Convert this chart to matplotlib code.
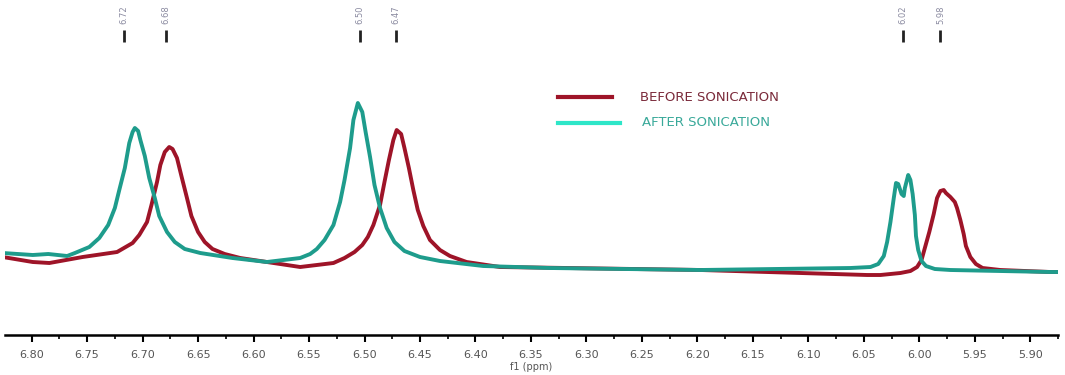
import numpy as np
import matplotlib.pyplot as plt
from matplotlib.ticker import MultipleLocator

# spectra (ppm, relative intensity)
after_ppm = [6.826, 6.799, 6.785, 6.768, 6.761, 6.748, 6.739, 6.731, 6.725, 6.721,
             6.716, 6.712, 6.709, 6.707, 6.704, 6.702, 6.698, 6.694, 6.689, 6.685,
             6.678, 6.671, 6.662, 6.648, 6.619, 6.588, 6.558, 6.549, 6.543, 6.536,
             6.528, 6.522, 6.518, 6.513, 6.510, 6.506, 6.502, 6.499, 6.495, 6.491,
             6.486, 6.480, 6.473, 6.464, 6.450, 6.432, 6.393, 6.333, 6.197, 6.062,
             6.044, 6.037, 6.032, 6.029, 6.026, 6.023, 6.021, 6.019, 6.016, 6.014,
             6.013, 6.010, 6.008, 6.006, 6.004, 6.003, 6.001, 5.998, 5.994, 5.986,
             5.972, 5.882, 5.871]
after_int = [27, 25, 26, 24, 27, 33, 42, 55, 72, 90,
             112, 137, 148, 152, 149, 140, 124, 102, 82, 64,
             48, 38, 31, 27, 22, 18, 22, 26, 31, 40,
             55, 78, 100, 132, 160, 177, 168, 148, 123, 95,
             72, 52, 38, 29, 23, 19, 14, 12, 10, 12,
             13, 16, 24, 38, 58, 82, 97, 96, 86, 84,
             92, 105, 100, 86, 65, 44, 30, 19, 14, 11,
             10, 8, 8]

before_ppm = [6.826, 6.799, 6.784, 6.754, 6.723, 6.709, 6.703, 6.696, 6.692, 6.687,
              6.684, 6.680, 6.676, 6.673, 6.669, 6.665, 6.660, 6.656, 6.650, 6.644,
              6.637, 6.626, 6.612, 6.588, 6.558, 6.528, 6.518, 6.509, 6.502, 6.497,
              6.492, 6.486, 6.482, 6.478, 6.474, 6.471, 6.467, 6.464, 6.460, 6.456,
              6.452, 6.447, 6.441, 6.432, 6.423, 6.408, 6.378, 6.197, 6.047, 6.035,
              6.017, 6.008, 6.002, 5.998, 5.995, 5.991, 5.987, 5.984, 5.981, 5.978,
              5.976, 5.972, 5.968, 5.966, 5.963, 5.960, 5.958, 5.954, 5.949, 5.943,
              5.927, 5.882, 5.871]
before_int = [23, 18, 17, 23, 28, 37, 45, 58, 75, 98,
              115, 128, 133, 131, 122, 104, 82, 64, 48, 38,
              31, 26, 22, 18, 13, 17, 22, 28, 35, 43,
              55, 75, 98, 120, 140, 150, 146, 132, 112, 90,
              70, 54, 40, 30, 24, 18, 13, 10, 5, 5,
              7, 9, 13, 20, 32, 48, 66, 82, 89, 90,
              87, 83, 78, 72, 60, 46, 34, 23, 16, 12,
              10, 8, 8]

peak_pos = [6.717, 6.679, 6.504, 6.472, 6.015, 5.981]
peak_labels = ['6.72', '6.68', '6.50', '6.47', '6.02', '5.98']

red = '#9e1428'
teal = '#1e9c8c'

fig = plt.figure(figsize=(10.65, 3.75), dpi=100)
ax = fig.add_axes([5 / 1065, 40 / 375, 1053 / 1065, 335 / 375])

ax.plot(before_ppm, before_int, color=red, lw=2.8, solid_joinstyle='round')
ax.plot(after_ppm, after_int, color=teal, lw=2.8, solid_joinstyle='round')

# peak picking marks on top
ax.vlines(peak_pos, 238, 250, colors='#222222', lw=2)
for p, lab in zip(peak_pos, peak_labels):
    ax.text(p, 256, lab, rotation=90, ha='center', va='bottom',
            fontsize=6, color='#8a8aa0')

# legend drawn by hand
ax.plot([0.525, 0.576], [0.710, 0.710], transform=ax.transAxes, color=red, lw=3)
ax.plot([0.525, 0.584], [0.633, 0.633], transform=ax.transAxes, color='#2ee6c8', lw=3)
ax.text(0.603, 0.710, 'BEFORE SONICATION', transform=ax.transAxes, va='center',
        fontsize=9.5, color='#7a2a3a')
ax.text(0.605, 0.633, 'AFTER SONICATION', transform=ax.transAxes, va='center',
        fontsize=9.5, color='#3aa99a')

ax.set_xlim(6.824, 5.875)
ax.set_ylim(-55, 280)
for s in ['top', 'left', 'right']:
    ax.spines[s].set_visible(False)
ax.spines['bottom'].set_linewidth(1.8)
ax.set_yticks([])
ax.xaxis.set_major_locator(MultipleLocator(0.05))
ax.xaxis.set_minor_locator(MultipleLocator(0.025))
ax.xaxis.set_major_formatter(lambda v, pos: '%.2f' % v)
ax.tick_params(axis='x', which='major', length=5, width=1.5, labelsize=8,
               labelcolor='#555555', pad=6)
ax.tick_params(axis='x', which='minor', length=3, width=1.2)
ax.set_xlabel('f1 (ppm)', fontsize=7, color='#555555', labelpad=1)

plt.savefig('out.png', dpi=100)
